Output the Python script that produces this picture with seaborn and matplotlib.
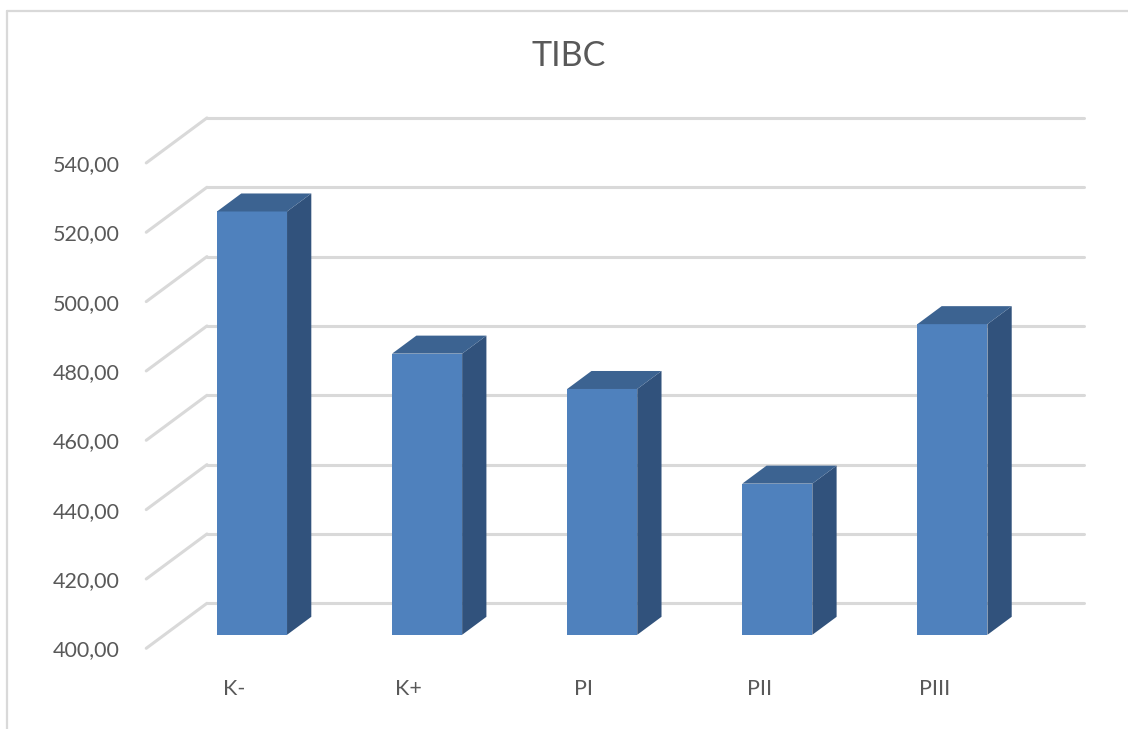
import matplotlib
matplotlib.use("Agg")
import matplotlib.pyplot as plt
import matplotlib.transforms as mtransforms
from matplotlib.patches import Polygon
from matplotlib.lines import Line2D
import seaborn as sns
import pandas as pd

# ---- data ----
categories = ["K-", "K+", "PI", "PII", "PIII"]
values = [522.1, 481.1, 470.9, 443.6, 489.6]
y_ticks = [400, 420, 440, 460, 480, 500, 520, 540]
title = "TIBC"

# ---- style ----
sns.set_theme(style="white")
plt.rcParams["font.family"] = ["Lato", "DejaVu Sans"]
TEXT = "#595959"
GRID = "#d9d9d9"
FRONT = "#4f81bd"
TOP = "#3c6391"
SIDE = "#31527c"

W, H = 1128, 729
fig = plt.figure(figsize=(W / 100, H / 100), dpi=100)

# layout in pixels (front plane of the 3-D box)
x0_px, cat_px = 233.8, 175.1          # centre of first category, spacing
base_px, unit_px = 648.3, 3.467       # y pixel of 400, pixels per unit
xlim = (-0.5, 5.0)
ylim = (400, 560)
left = x0_px + xlim[0] * cat_px
right = x0_px + xlim[1] * cat_px
top = base_px - (ylim[1] - ylim[0]) * unit_px
ax = fig.add_axes([left / W, (H - base_px) / H, (right - left) / W, (base_px - top) / H])
ax.set_xlim(*xlim)
ax.set_ylim(*ylim)

# depth vector (data units) of the whole box, and bar placement inside it
Dx, Dy = 60.7 / cat_px, 45.0 / unit_px
bar_front, bar_depth = 0.3, 0.4

df = pd.DataFrame({"cat": categories, "val": values})
sns.barplot(data=df, x="cat", y="val", width=0.4, color=FRONT, saturation=1,
            ax=ax, zorder=3, linewidth=0)
ax.set_xlim(*xlim)
ax.set_ylim(*ylim)

# back wall gridlines + left wall diagonals
back = mtransforms.Affine2D().translate(Dx, Dy) + ax.transData
grid_end = (1084 - x0_px) / cat_px - Dx
for v in y_ticks:
    ax.add_line(Line2D([xlim[0], grid_end], [v, v], color=GRID, lw=2.2,
                       transform=back, clip_on=False, zorder=1))
    ax.add_line(Line2D([xlim[0], xlim[0] + Dx], [v, v + Dy], color=GRID, lw=2.2,
                       clip_on=False, zorder=1))

# 3-D bars
shift = mtransforms.Affine2D().translate(bar_front * Dx, bar_front * Dy) + ax.transData
bx, by = bar_depth * Dx, bar_depth * Dy
floor = ylim[0]
for p in list(ax.patches):
    h = p.get_height()
    p.set_y(floor)
    p.set_height(h - floor)
    p.set_transform(shift)
    p.set_clip_on(False)
    xa = p.get_x()
    xb = xa + p.get_width()
    topv = h
    ax.add_patch(Polygon([(xa, topv), (xb, topv), (xb + bx, topv + by), (xa + bx, topv + by)],
                         closed=True, facecolor=TOP, edgecolor="none",
                         transform=shift, clip_on=False, zorder=3))
    ax.add_patch(Polygon([(xb, floor), (xb, topv), (xb + bx, topv + by), (xb + bx, floor + by)],
                         closed=True, facecolor=SIDE, edgecolor="none",
                         transform=shift, clip_on=False, zorder=2.9))

# axes cosmetics
for s in ax.spines.values():
    s.set_visible(False)
ax.patch.set_alpha(0)
ax.set_xlabel("")
ax.set_ylabel("")
ax.set_yticks(y_ticks)
ax.set_yticklabels([f"{v:.2f}".replace(".", ",") for v in y_ticks],
                   fontsize=15.5, color=TEXT)
ax.tick_params(axis="y", length=0, pad=19)
ax.set_xticks([])
label_y = ylim[0] - (695 - base_px) / unit_px
for i, c in enumerate(categories):
    ax.text(i, label_y, c, ha="center", va="baseline", fontsize=15.5,
            color=TEXT, clip_on=False)

fig.text(568.3 / W, 1 - 55.5 / H, title, ha="center", va="center",
         fontsize=24.5, color=TEXT)

# chart border (left and top edges visible)
fig.add_artist(Line2D([7 / W, 7 / W], [0, 1 - 11 / H], color=GRID, lw=1.6,
                      transform=fig.transFigure))
fig.add_artist(Line2D([7 / W, 1], [1 - 11 / H, 1 - 11 / H], color=GRID, lw=1.6,
                      transform=fig.transFigure))

fig.savefig("out.png", dpi=100, facecolor="white")
